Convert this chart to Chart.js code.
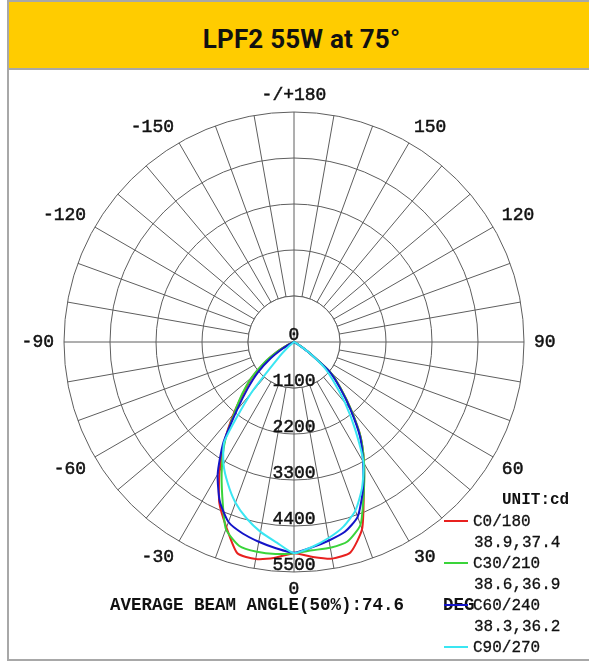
<!DOCTYPE html>
<html>
<head>
<meta charset="utf-8">
<title>LPF2 55W at 75°</title>
<script src="https://cdn.jsdelivr.net/npm/chart.js@4.4.1/dist/chart.umd.min.js"></script>
<style>
  body { margin: 0; width: 589px; height: 662px; overflow: hidden; position: relative; background: #fff; }
  #frame { position: absolute; left: 7px; top: 0; width: 585px; height: 657px; border: 2px solid #a8a8a8; }
  #header { position: absolute; left: 9px; top: 2px; width: 585px; height: 66px; background: #ffcc00; border-bottom: 2px solid #a8a8a8; }
  #title { position: absolute; left: 9px; top: 27px; width: 585px; text-align: center; font: 700 26px Roboto, sans-serif; letter-spacing: 0.2px; line-height: 25px; color: #111; }
  #chart { position: absolute; left: 0; top: 71px; }
  .mono { position: absolute; font-family: "Liberation Mono", monospace; color: #111; white-space: pre; }
  #beam { left: 110px; top: 595px; font-size: 17.5px; font-weight: bold; line-height: 20px; }
  #deg { left: 443px; top: 595px; font-size: 17.5px; font-weight: bold; line-height: 20px; }
  #unit { left: 502px; top: 490px; font-size: 16px; font-weight: bold; line-height: 21px; }
  #legend { left: 444px; top: 512px; font-size: 16px; line-height: 21px; -webkit-text-stroke: 0.3px #111; }
  #legend .row { height: 21px; }
  #legend .sub { padding-left: 30px; }
  #legend .mark { display: inline-block; width: 24px; height: 2px; vertical-align: middle; margin-right: 5px; position: relative; top: -1px; }
</style>
</head>
<body>
<div id="frame"></div>
<div id="header"></div>
<div id="title">LPF2 55W at 75°</div>
<canvas id="chart" width="589" height="588"></canvas>
<div class="mono" id="beam">AVERAGE BEAM ANGLE(50%):74.6</div>
<div class="mono" id="deg">DEG</div>
<div class="mono" id="unit">UNIT:cd</div>
<div class="mono" id="legend"></div>
<script>
// gamma angles of the measured half planes (negative = left half)
const gammaAngles = [-90, -85, -80, -75, -70, -65, -60, -55, -50, -45, -40, -35, -30, -25, -20, -15, -10, -5,
  0, 5, 10, 15, 20, 25, 30, 35, 40, 45, 50, 55, 60, 65, 70, 75, 80, 85, 90];

// luminous intensity, cd
const c0 = [0, 0, 0, 0, 30, 150, 450, 850, 1300, 1700, 2250, 2900, 3560, 4230, 4720, 5230, 5270, 5180,
  5050, 5160, 5260, 5210, 4760, 3950, 3350, 2780, 2130, 1590, 1150, 400, 110, 0, 0, 0, 0, 0, 0];
const c30 = [0, 0, 0, 0, 30, 150, 450, 880, 1330, 1750, 2215, 2870, 3450, 4060, 4760, 5050, 5095, 5090,
  5050, 5000, 4995, 4940, 4650, 3950, 3350, 2780, 2130, 1590, 1150, 420, 120, 0, 0, 0, 0, 0, 0];
const c60 = [0, 0, 0, 0, 20, 100, 320, 680, 1120, 1560, 2120, 2950, 3650, 4200, 4580, 4740, 4850, 4950,
  5040, 4930, 4820, 4700, 4450, 3900, 3300, 2750, 2100, 1560, 1120, 400, 100, 0, 0, 0, 0, 0, 0];
const c90 = [0, 0, 0, 0, 0, 0, 0, 0, 150, 500, 1600, 2900, 3370, 3740, 4090, 4370, 4610, 4810,
  5050, 4920, 4760, 4570, 4290, 3850, 3320, 2550, 1900, 1350, 950, 400, 80, 0, 0, 0, 0, 0, 0];

const seriesNames = ['C0/180', 'C30/210', 'C60/240', 'C90/270'];
const seriesColors = ['#e8211f', '#3ad43a', '#1414c8', '#3ae6f2'];
const beamAngles = ['38.9,37.4', '38.6,36.9', '38.3,36.2'];

const ringValues = [0, 1100, 2200, 3300, 4400, 5500];
const angleTicks = [180, 150, 120, 90, 60, 30, 0, -30, -60, -90, -120, -150];
const angleTickLabels = ['-/+180', '150', '120', '90', '60', '30', '0', '-30', '-60', '-90', '-120', '-150'];

const gridColor = '#5e5e5e';
const textColor = '#111';
const step = 5;

// spokes of the radar, clockwise from the top (180) round to -175
const labels = [];
for (let g = 180; g > -180; g -= step) labels.push(g);

function spread(values) {
  return labels.map(g => {
    const k = gammaAngles.indexOf(g);
    return k >= 0 ? values[k] : 0;
  });
}

function indexOfGamma(g) {
  return (((180 - g) / step) % labels.length + labels.length) % labels.length;
}

function label(ctx, text, x, y) {
  ctx.strokeText(text, x, y);
  ctx.fillText(text, x, y);
}

const polarDecor = {
  id: 'polarDecor',
  beforeDatasetsDraw(chart) {
    const s = chart.scales.r;
    const ctx = chart.ctx;
    const r1 = s.getDistanceFromCenterForValue(ringValues[1]);
    ctx.save();
    // no spokes inside the first ring, only the cross
    ctx.fillStyle = '#fff';
    ctx.beginPath();
    ctx.arc(s.xCenter, s.yCenter, r1, 0, Math.PI * 2);
    ctx.fill();
    ctx.strokeStyle = gridColor;
    ctx.lineWidth = 1;
    ctx.beginPath();
    ctx.arc(s.xCenter, s.yCenter, r1, 0, Math.PI * 2);
    ctx.moveTo(s.xCenter - r1, s.yCenter);
    ctx.lineTo(s.xCenter + r1, s.yCenter);
    ctx.moveTo(s.xCenter, s.yCenter - r1);
    ctx.lineTo(s.xCenter, s.yCenter + r1);
    ctx.stroke();
    ctx.restore();
  },
  afterDatasetsDraw(chart) {
    const s = chart.scales.r;
    const ctx = chart.ctx;
    ctx.save();
    ctx.fillStyle = textColor;
    ctx.strokeStyle = textColor;
    ctx.lineWidth = 0.5;
    ctx.font = '18px "Liberation Mono", monospace';

    // intensity values down the 0 spoke
    ctx.textAlign = 'center';
    ctx.textBaseline = 'alphabetic';
    const down = indexOfGamma(0);
    ringValues.forEach(v => {
      const p = s.getPointPosition(down, s.getDistanceFromCenterForValue(v));
      label(ctx, String(v), p.x, p.y - 2);
    });

    // angle labels round the outside
    ctx.textBaseline = 'middle';
    angleTicks.forEach((g, k) => {
      const a = ((180 - g) % 360 + 360) % 360;
      const p = s.getPointPosition(indexOfGamma(g), s.drawingArea + 10);
      ctx.textAlign = (a === 0 || a === 180) ? 'center' : (a < 180 ? 'left' : 'right');
      let dy = 0;
      if (a < 90 || a > 270) dy = -7;
      else if (a > 90 && a < 270) dy = 7;
      label(ctx, angleTickLabels[k], p.x, p.y + dy);
    });
    ctx.restore();
  }
};

const allSeries = [c0, c30, c60, c90];

new Chart(document.getElementById('chart'), {
  type: 'radar',
  data: {
    labels: labels,
    datasets: allSeries.map((vals, k) => ({
      label: seriesNames[k],
      data: spread(vals),
      borderColor: seriesColors[k],
      backgroundColor: seriesColors[k],
      borderWidth: 2,
      fill: false,
      pointRadius: 0,
      tension: 0.2,
      order: allSeries.length - k
    }))
  },
  options: {
    responsive: false,
    animation: false,
    layout: { padding: { left: 64, right: 65, top: 41, bottom: 87 } },
    plugins: { legend: { display: false }, tooltip: { enabled: false } },
    scales: {
      r: {
        min: ringValues[0],
        max: ringValues[ringValues.length - 1],
        ticks: { display: false, stepSize: ringValues[1] - ringValues[0] },
        grid: { circular: true, color: gridColor, lineWidth: 1 },
        angleLines: {
          color: c => (c.index % 2 === 0 ? gridColor : 'rgba(0,0,0,0)'),
          lineWidth: 1
        },
        pointLabels: { display: false }
      }
    }
  },
  plugins: [polarDecor]
});

// legend built from the series lists
const legend = document.getElementById('legend');
seriesNames.forEach((name, k) => {
  const row = document.createElement('div');
  row.className = 'row';
  row.innerHTML = '<span class="mark" style="background:' + seriesColors[k] + '"></span>' + name;
  legend.appendChild(row);
  if (beamAngles[k]) {
    const sub = document.createElement('div');
    sub.className = 'row sub';
    sub.textContent = beamAngles[k];
    legend.appendChild(sub);
  }
});
</script>
</body>
</html>
